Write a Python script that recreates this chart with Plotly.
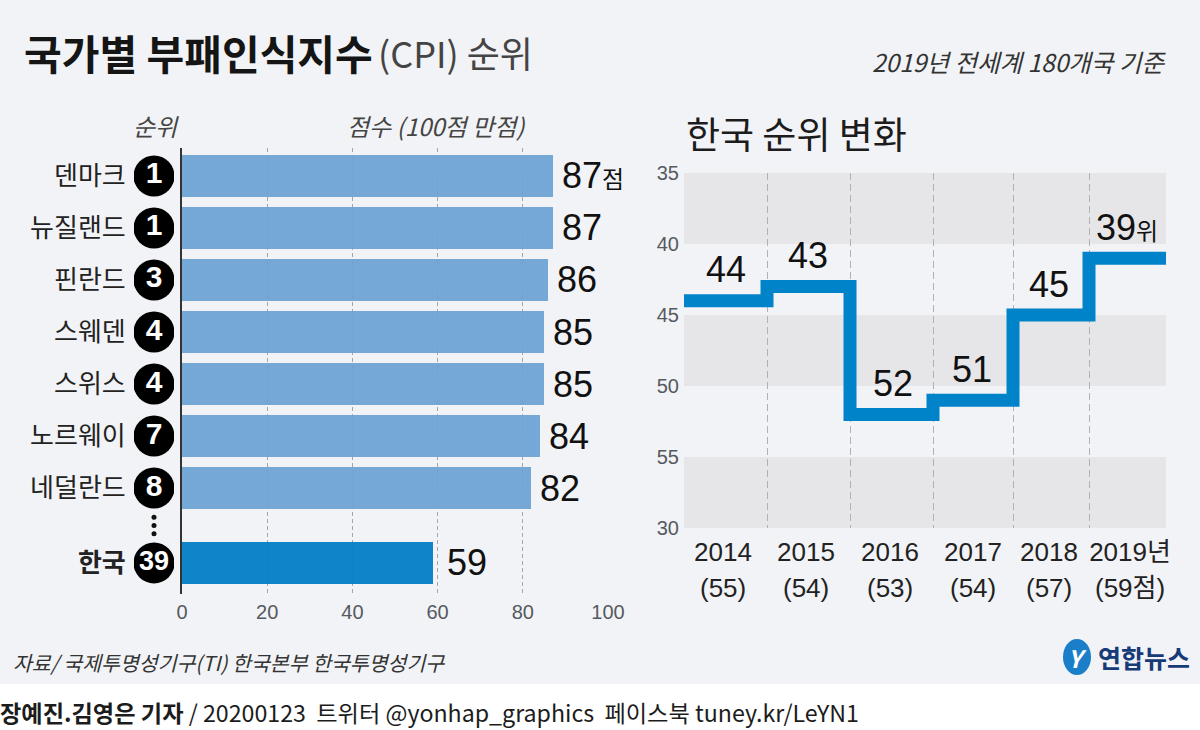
import plotly.graph_objects as go

countries = ["덴마크", "뉴질랜드", "핀란드", "스웨덴", "스위스", "노르웨이", "네덜란드", "한국"]
ranks = [1, 1, 3, 4, 4, 7, 8, 39]
scores = [87, 87, 86, 85, 85, 84, 82, 59]
score_ticks = [0, 20, 40, 60, 80, 100]

years = ["2014", "2015", "2016", "2017", "2018", "2019년"]
year_scores = ["(55)", "(54)", "(53)", "(54)", "(57)", "(59점)"]
rank_labels = ["44", "43", "52", "51", "45", "39위"]
drawn_ranks = [44, 43, 52, 51, 45, 41]
rank_ticks = [35, 40, 45, 50, 55, 60]
rank_tick_labels = ["35", "40", "45", "50", "55", "30"]

W, H = 1200, 730
NARROW = '"Liberation Sans","Noto Sans CJK KR",sans-serif'
CJK = '"Noto Sans CJK KR",sans-serif'
BG = "#f2f3f6"
BAND = "#e6e6e9"
INK = "#1c1c1c"
GRAY = "#555a60"
LIGHT_BAR = "#6ca2d4"
DARK_BAR = "#007cc6"
LINE_BLUE = "#0083c9"


def px(x):
    return x / W


def py(y):
    return 1 - y / H


rows = list(range(7)) + [7.44]
edges = [0, 83, 166, 249, 329, 405, 482]
label_pos = [39, 122, 206, 289, 365, 446]
value_pos = [42, 124, 209, 288, 365, 443]

fig = go.Figure()
fig.add_trace(go.Bar(
    x=scores, y=rows, orientation="h", width=0.808,
    marker=dict(color=[LIGHT_BAR] * 7 + [DARK_BAR], opacity=0.94, line_width=0),
    xaxis="x", yaxis="y", hoverinfo="skip",
))
fig.add_trace(go.Scatter(
    x=[0.5] * len(rows), y=rows, mode="markers+text",
    marker=dict(size=41, color="#000000"),
    text=[f"<b>{r}</b>" for r in ranks], textposition="middle center",
    textfont=dict(family=NARROW, size=[30] * 7 + [27], color="white"),
    xaxis="x3", yaxis="y", hoverinfo="skip",
))
fig.add_trace(go.Scatter(
    x=[0.5] * 3, y=[6.56, 6.72, 6.88], mode="markers",
    marker=dict(size=5, color="#111111"),
    xaxis="x3", yaxis="y", hoverinfo="skip",
))
fig.add_trace(go.Scatter(
    x=edges, y=drawn_ranks + [drawn_ranks[-1]], mode="lines",
    line=dict(color=LINE_BLUE, width=13, shape="hv"),
    xaxis="x2", yaxis="y2", hoverinfo="skip",
))

annotations = []


def note(x, y, text, size, color=INK, family=CJK, anchor="left", **kw):
    annotations.append(dict(
        x=px(x), y=py(y), xref="paper", yref="paper", text=text, showarrow=False,
        xanchor=anchor, yanchor="middle", font=dict(family=family, size=size, color=color), **kw))


for i, (row, score) in enumerate(zip(rows, scores)):
    label = str(score)
    extra = {}
    if i == 0:
        label += '<span style="font-size:24px">점</span>'
        extra = dict(bgcolor=BG)
    annotations.append(dict(
        x=score, y=row, xref="x", yref="y", text=label, showarrow=False,
        xanchor="left", yanchor="middle", xshift=12 if i == 7 else 7,
        font=dict(family=NARROW, size=36, color="#111111"), **extra))

for pos, value, label in zip(value_pos, drawn_ranks, rank_labels):
    text = label.replace("위", '<span style="font-size:24px">위</span>')
    annotations.append(dict(
        x=pos, y=value, xref="x2", yref="y2", text=text, showarrow=False,
        xanchor="center", yanchor="middle", yshift=31,
        font=dict(family=NARROW, size=36, color="#111111")))

for pos, label in zip(label_pos, year_scores):
    annotations.append(dict(
        x=pos, y=py(588), xref="x2", yref="paper", text=label, showarrow=False,
        xanchor="center", yanchor="middle",
        font=dict(family=NARROW, size=26, color="#222222")))

note(22, 52, "<b>국가별 부패인식지수</b>", 41, "#151515")
note(376, 52, "(CPI) 순위", 36, "#444444")
note(1168, 62, "<i>2019년 전세계 180개국 기준</i>", 24.5, "#333333", anchor="right")
note(684, 133, "한국 순위 변화", 37, "#1c1c1c")
note(131, 125, "<i>순위</i>", 24, "#444444")
note(345, 125, "<i>점수 (100점 만점)</i>", 24, "#444444")
note(11, 662, "<i>자료/ 국제투명성기구(TI) 한국본부 한국투명성기구</i>", 20.5, "#333333")
note(-2, 712, "<b>장예진.김영은 기자</b> / 20200123  트위터 @yonhap_graphics  페이스북 tuney.kr/LeYN1", 23.2, "#1c1c1c")
note(1096, 657, "<b>연합뉴스</b>", 25, "#173a78")
note(1077, 657, "<b><i>Y</i></b>", 24, "white", anchor="center")

shapes = [dict(type="rect", xref="paper", yref="paper", x0=0, x1=1, y0=py(684), y1=1,
               fillcolor=BG, line_width=0, layer="below")]
for top, bottom in zip(rank_ticks[::2], rank_ticks[1::2]):
    shapes.append(dict(type="rect", xref="x2", yref="y2", x0=edges[0], x1=edges[-1],
                       y0=top, y1=bottom, fillcolor=BAND, line_width=0, layer="below"))
shapes.append(dict(type="rect", xref="x2", yref="y2", x0=edges[0], x1=edges[-1],
                   y0=rank_ticks[4], y1=rank_ticks[5], fillcolor=BAND, line_width=0, layer="below"))
shapes.append(dict(type="circle", xref="paper", yref="paper",
                   x0=px(1063), x1=px(1091), y0=py(675), y1=py(639),
                   fillcolor="#1a7fc8", line_width=0, layer="below"))

fig.update_layout(
    width=W, height=H, margin=dict(l=0, r=0, t=0, b=0, pad=0, autoexpand=False),
    paper_bgcolor="white", plot_bgcolor="rgba(0,0,0,0)", showlegend=False,
    bargap=0, shapes=shapes, annotations=annotations,
    xaxis=dict(domain=[px(182), px(608)], range=[0, 100], anchor="y", automargin=False,
               tickvals=score_ticks, tickangle=0, showgrid=True, griddash="4px,3px",
               gridcolor="#a3a5a8", gridwidth=1, showline=False, zeroline=False,
               ticks="", ticklabelstandoff=4,
               tickfont=dict(family=NARROW, size=20, color=GRAY)),
    yaxis=dict(domain=[py(594), py(148)], range=[8.038, -0.538], anchor="x", automargin=False,
               tickvals=rows,
               ticktext=[f"<b>{c}</b>" if c == "한국" else c for c in countries],
               showgrid=False, showline=True, linecolor="#333333", linewidth=2,
               zeroline=False, ticks="", ticklabelstandoff=49,
               tickfont=dict(family=CJK, size=26, color="#222222")),
    xaxis2=dict(domain=[px(684), px(1166)], range=[edges[0], edges[-1]], anchor="y2",
                automargin=False, tickangle=0,
                tickvals=label_pos, ticktext=years, showgrid=False, showline=False,
                zeroline=False, ticks="", ticklabelstandoff=6,
                tickfont=dict(family=NARROW, size=26, color="#222222"),
                minor=dict(tickvals=edges[1:-1], showgrid=True, griddash="7px,4px",
                           gridcolor="#b0b1b4", gridwidth=1, ticks="")),
    yaxis2=dict(domain=[py(528), py(173)], range=[60, 35], anchor="x2", automargin=False,
                tickvals=rank_ticks, ticktext=rank_tick_labels, showgrid=False,
                showline=False, zeroline=False, ticks="", ticklabelstandoff=4,
                tickfont=dict(family=NARROW, size=20, color=GRAY)),
    xaxis3=dict(domain=[px(134), px(174)], range=[0, 1], anchor="y", visible=False,
                automargin=False),
)

fig.write_html("out.html", config={"displayModeBar": False},
               post_script="document.body.style.margin='0';")
